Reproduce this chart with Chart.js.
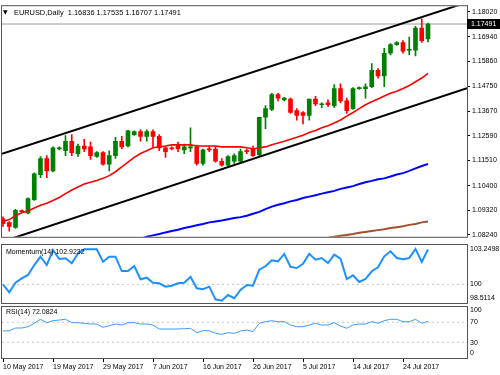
<!DOCTYPE html>
<html><head><meta charset="utf-8">
<script src="https://cdn.jsdelivr.net/npm/chart.js@4.4.0/dist/chart.umd.min.js"></script>
<style>
html,body{margin:0;padding:0;background:#fff;width:500px;height:375px;overflow:hidden;}
canvas{position:absolute;left:0;}
#c1{top:0;} #c2{top:243px;} #c3{top:300px;}
</style></head><body>
<canvas id="c1" width="500" height="243"></canvas>
<canvas id="c2" width="500" height="61"></canvas>
<canvas id="c3" width="500" height="75"></canvas>
<script>
// ---------- DATA ----------
const dates = ["10 May 2017","11 May 2017","12 May 2017","14 May 2017","15 May 2017","16 May 2017","17 May 2017","18 May 2017","19 May 2017","21 May 2017","22 May 2017","23 May 2017","24 May 2017","25 May 2017","26 May 2017","28 May 2017","29 May 2017","30 May 2017","31 May 2017",
"1 Jun 2017","2 Jun 2017","4 Jun 2017","5 Jun 2017","6 Jun 2017","7 Jun 2017","8 Jun 2017","9 Jun 2017","11 Jun 2017","12 Jun 2017","13 Jun 2017","14 Jun 2017","15 Jun 2017","16 Jun 2017","18 Jun 2017","19 Jun 2017","20 Jun 2017","21 Jun 2017","22 Jun 2017","23 Jun 2017","25 Jun 2017","26 Jun 2017","27 Jun 2017","28 Jun 2017","29 Jun 2017","30 Jun 2017",
"2 Jul 2017","3 Jul 2017","4 Jul 2017","5 Jul 2017","6 Jul 2017","7 Jul 2017","9 Jul 2017","10 Jul 2017","11 Jul 2017","12 Jul 2017","13 Jul 2017","14 Jul 2017","16 Jul 2017","17 Jul 2017","18 Jul 2017","19 Jul 2017","20 Jul 2017","21 Jul 2017","23 Jul 2017","24 Jul 2017","25 Jul 2017","26 Jul 2017","27 Jul 2017","28 Jul 2017"];
const dateTicks = ["10 May 2017","19 May 2017","29 May 2017","7 Jun 2017","16 Jun 2017","26 Jun 2017","5 Jul 2017","14 Jul 2017","24 Jul 2017"];
const priceTicks = [1.18020,1.16940,1.15860,1.14750,1.13670,1.12590,1.11510,1.10400,1.09320,1.08240];

const open  = [1.0895,1.0878,1.0857,1.0930,1.0920,1.0979,1.1088,1.1159,1.1105,1.1201,1.1193,1.1235,1.1180,1.1214,1.1210,1.1168,1.1185,1.1134,1.1172,1.1235,1.1214,1.1264,1.1277,1.1256,1.1277,1.1256,1.1206,1.1206,1.1218,1.1197,1.1206,1.1210,1.1138,1.1201,1.1201,1.1147,1.1130,1.1147,1.1147,1.1193,1.1201,1.1176,1.1340,1.1374,1.1440,1.1416,1.1420,1.1369,1.1361,1.1348,1.1420,1.1395,1.1403,1.1391,1.1466,1.1412,1.1378,1.1466,1.1466,1.1474,1.1546,1.1521,1.1621,1.1659,1.1668,1.1634,1.1634,1.1731,1.16836];
const high  = [1.0903,1.0882,1.0936,1.0934,1.0987,1.1096,1.1168,1.1172,1.1210,1.1210,1.1260,1.1264,1.1222,1.1243,1.1231,1.1189,1.1189,1.1193,1.1252,1.1256,1.1283,1.1281,1.1285,1.1285,1.1285,1.1264,1.1210,1.1210,1.1231,1.1222,1.1294,1.1218,1.1201,1.1210,1.1210,1.1159,1.1172,1.1180,1.1201,1.1201,1.1214,1.1340,1.1391,1.1445,1.1445,1.1428,1.1424,1.1378,1.1365,1.1420,1.1432,1.1403,1.1416,1.1483,1.1487,1.1424,1.1470,1.1474,1.1487,1.1575,1.1554,1.1642,1.1663,1.1672,1.1676,1.1692,1.1739,1.1772,1.17535];
const low   = [1.0861,1.0840,1.0853,1.0922,1.0916,1.0975,1.1075,1.1075,1.1100,1.1197,1.1172,1.1172,1.1168,1.1189,1.1155,1.1164,1.1130,1.1105,1.1159,1.1201,1.1210,1.1260,1.1235,1.1235,1.1210,1.1193,1.1164,1.1197,1.1189,1.1180,1.1189,1.1130,1.1130,1.1189,1.1143,1.1126,1.1126,1.1138,1.1143,1.1180,1.1168,1.1172,1.1290,1.1369,1.1412,1.1412,1.1357,1.1327,1.1311,1.1327,1.1391,1.1382,1.1386,1.1382,1.1403,1.1357,1.1374,1.1462,1.1424,1.1470,1.1512,1.1474,1.1613,1.1655,1.1621,1.1613,1.1609,1.1668,1.16707];
const close = [1.0873,1.0861,1.0932,1.0926,1.0983,1.1092,1.1159,1.1105,1.1206,1.1206,1.1235,1.1185,1.1214,1.1201,1.1172,1.1185,1.1134,1.1172,1.1235,1.1210,1.1281,1.1277,1.1256,1.1277,1.1256,1.1206,1.1189,1.1201,1.1201,1.1210,1.1210,1.1138,1.1197,1.1197,1.1147,1.1130,1.1168,1.1172,1.1189,1.1189,1.1172,1.1340,1.1378,1.1440,1.1424,1.1424,1.1361,1.1348,1.1348,1.1420,1.1399,1.1399,1.1395,1.1466,1.1412,1.1369,1.1466,1.1470,1.1474,1.1546,1.1521,1.1621,1.1659,1.1668,1.1630,1.1638,1.1731,1.1676,1.17491];

const maRed = [1.0883,1.0891,1.0908,1.0921,1.0929,1.0942,1.0954,1.0963,1.0975,1.0988,1.1005,1.1021,1.1034,1.1047,1.1055,1.1063,1.1072,1.1084,1.1101,1.1122,1.1143,1.1164,1.1181,1.1193,1.1206,1.1210,1.1214,1.1219,1.1219,1.1219,1.1219,1.1214,1.1214,1.1214,1.1214,1.1210,1.1210,1.1210,1.1210,1.1206,1.1202,1.1206,1.1210,1.1219,1.1227,1.1235,1.1244,1.1252,1.1261,1.1273,1.1282,1.1294,1.1303,1.1315,1.1328,1.1345,1.1361,1.1378,1.1395,1.1408,1.1420,1.1433,1.1445,1.1454,1.1466,1.1479,1.1496,1.1512,1.1533];
const maBlue = [null,null,null,null,null,null,null,null,null,null,null,null,null,null,null,null,null,null,null,null,null,null,
1.0807,1.0816,1.0822,1.0828,1.0835,1.0841,1.0847,1.0854,1.0860,1.0866,1.0872,1.0879,1.0883,1.0887,1.0893,1.0898,1.0902,1.0908,1.0917,1.0925,1.0937,1.0948,1.0956,1.0963,1.0971,1.0977,1.0986,1.0992,1.0998,1.1005,1.1011,1.1017,1.1026,1.1032,1.1038,1.1047,1.1055,1.1061,1.1068,1.1072,1.1080,1.1089,1.1095,1.1105,1.1116,1.1126,1.1135];
const maBrown = [null,null,null,null,null,null,null,null,null,null,null,null,null,null,null,null,null,null,null,null,null,null,null,null,null,null,null,null,null,null,null,null,null,null,null,null,null,null,null,null,null,null,null,null,null,null,null,null,null,null,null,null,
1.0812,1.0816,1.0820,1.0824,1.0828,1.0833,1.0837,1.0841,1.0845,1.0849,1.0854,1.0858,1.0862,1.0868,1.0872,1.0879,1.0883];

// channel trend lines: [bar, price] anchors
const upperChannel = [[-0.16,1.1180],[74.24,1.1844]];
const lowerChannel = [[-0.16,1.0794],[74.24,1.1467]];
const lastPrice = 1.17491;

const momentum = [100.01,99.34,100.14,100.51,100.79,101.62,102.32,101.62,102.88,102.13,102.19,101.77,102.60,102.94,102.94,102.94,101.90,102.32,102.32,101.12,101.12,101.54,100.43,100.56,100.14,100.09,99.81,99.89,100.09,100.14,100.64,99.67,99.59,99.81,98.75,98.63,99.11,98.84,99.53,99.95,99.89,101.23,101.52,102.02,101.93,102.55,101.46,101.37,101.73,102.57,102.07,102.21,101.79,102.49,102.15,100.45,100.76,100.20,100.45,101.10,101.43,102.35,102.77,102.21,102.10,102.21,102.97,101.88,102.9232];
const rsi = [52.5,53.1,58.5,58.5,61.1,67.9,75.9,69.1,73.1,74.5,75.9,69.1,69.1,67.9,66.5,66.5,59.9,63.1,66.5,64.5,69.1,69.1,66.5,66.5,64.5,56.5,56.5,56.5,56.5,57.1,57.9,49.1,53.1,53.1,47.9,45.9,49.1,47.9,52.5,54.5,51.1,67.9,71.1,73.1,71.1,71.1,64.5,61.1,61.1,64.5,67.9,64.5,64.5,69.1,62.5,57.9,64.5,66.5,66.5,71.1,67.9,73.1,75.9,75.9,71.1,71.1,75.9,67.9,72.0824];

const momLabels = [["103.2498",103.2498,3.5],["100",100,0],["98.5114",98.5114,-4]];
const rsiLabels = [["100",100,2.5],["70",70,0],["30",30,0.5],["0",0,-4]];
const titleText = "EURUSD,Daily  1.16836 1.17535 1.16707 1.17491";
const momTitle = "Momentum(14) 102.9232";
const rsiTitle = "RSI(14) 72.0824";

// ---------- RENDER ----------
const FAM = '"Liberation Sans", Arial, sans-serif';
const X_MIN = -0.16, X_MAX = 74.24;
const GREEN = '#008000', RED = '#ff0000';
const pts = arr => arr.map((v,i)=>v==null?null:{x:i,y:v}).filter(p=>p);
const seg = a => a.map(p=>({x:p[0],y:p[1]}));
const candleColor = open.map((o,i)=> close[i] >= o ? GREEN : RED);

const frame = {
  id:'frame',
  afterDraw(chart){
    const {ctx, chartArea:a} = chart;
    ctx.save();
    ctx.strokeStyle = '#555'; ctx.lineWidth = 1;
    ctx.strokeRect(a.left-0.5, a.top-0.5, a.right-a.left+1, a.bottom-a.top+1);
    ctx.restore();
  }
};
function sideLabels(items, caption, capDy){
  return {
    id:'side',
    afterDraw(chart){
      const {ctx, chartArea:a} = chart, ys = chart.scales.y;
      ctx.save();
      ctx.font = '7px ' + FAM; ctx.fillStyle = '#000'; ctx.textBaseline = 'middle'; ctx.textAlign = 'left';
      items.forEach(it => ctx.fillText(it[0], a.right + 3, ys.getPixelForValue(it[1]) + it[2]));
      ctx.fillText(caption, a.left + 4, a.top + capDy);
      ctx.restore();
    }
  };
}
const mainDeco = {
  id:'mainDeco',
  afterDraw(chart){
    const {ctx, chartArea:a} = chart, ys = chart.scales.y;
    ctx.save();
    ctx.textBaseline = 'middle'; ctx.textAlign = 'left'; ctx.fillStyle = '#000';
    ctx.font = '6px "DejaVu Sans"';
    ctx.fillText('\u25BC', a.left + 1, a.top + 6);
    ctx.font = '7.4px ' + FAM;
    ctx.fillText(titleText, a.left + 12, a.top + 7);
    const py = Math.round(ys.getPixelForValue(lastPrice));
    ctx.fillStyle = '#000';
    ctx.fillRect(a.right, py - 5, 33, 10);
    ctx.fillStyle = '#fff';
    ctx.font = '7px ' + FAM;
    ctx.fillText(lastPrice.toFixed(5), a.right + 4, py + 0.5);
    ctx.restore();
  }
};

const hiddenX = {type:'linear', min:X_MIN, max:X_MAX, display:false, offset:false};
const lineDS = (data, color, w, extra) => Object.assign({type:'line', data, borderColor:color, borderWidth:w, pointRadius:0, tension:0, fill:false}, extra||{});

new Chart(document.getElementById('c1'), {
  type:'bar',
  data:{ datasets:[
    lineDS(seg(upperChannel), '#000', 2),
    lineDS(seg(lowerChannel), '#000', 2),
    lineDS(pts(maRed), '#ff0000', 1.6),
    lineDS(pts(maBlue), '#0000ff', 2),
    lineDS(pts(maBrown), '#a0522d', 2),
    {type:'bar', data: open.map((o,i)=>({x:i, y:[o, close[i]]})), backgroundColor:candleColor, barThickness:4, minBarLength:1, grouped:false, borderWidth:0},
    {type:'bar', data: open.map((o,i)=>({x:i, y:[low[i], high[i]]})), backgroundColor:candleColor, barThickness:1, grouped:false, borderWidth:0},
    lineDS([{x:X_MIN,y:lastPrice},{x:X_MAX,y:lastPrice}], '#9a9a9a', 1)
  ]},
  options:{
    responsive:false, animation:false, devicePixelRatio:1,
    layout:{padding:{left:2, top:1, right:0, bottom:1}},
    plugins:{legend:{display:false}, tooltip:{enabled:false}},
    scales:{
      x: hiddenX,
      y:{ position:'right', min:1.08157, max:1.18272,
          afterFit: s => { s.width = 33; },
          afterBuildTicks: s => { s.ticks = priceTicks.map(v=>({value:v})); },
          ticks:{ callback: v => Number(v).toFixed(5), font:{size:7, family:FAM}, color:'#000', padding:2, autoSkip:false },
          grid:{ drawOnChartArea:false, tickLength:3, color:'#000' },
          border:{ display:false } }
    }
  },
  plugins:[frame, mainDeco]
});

new Chart(document.getElementById('c2'), {
  type:'line',
  data:{ datasets:[
    lineDS(pts(momentum), '#1e90ff', 2),
    lineDS([{x:X_MIN,y:100},{x:X_MAX,y:100}], '#c8c8c8', 1, {borderDash:[2,3]})
  ]},
  options:{
    responsive:false, animation:false, devicePixelRatio:1,
    layout:{padding:{left:2, top:2, right:0, bottom:1}},
    plugins:{legend:{display:false}, tooltip:{enabled:false}},
    scales:{
      x: hiddenX,
      y:{ position:'right', min:98.442, max:103.300, afterFit: s => { s.width = 33; },
          ticks:{display:false}, grid:{display:false}, border:{display:false} }
    }
  },
  plugins:[frame, sideLabels(momLabels, momTitle, 6.7)]
});

new Chart(document.getElementById('c3'), {
  type:'line',
  data:{ datasets:[
    lineDS(pts(rsi), '#3c9cff', 1),
    lineDS([{x:X_MIN,y:70},{x:X_MAX,y:70}], '#c8c8c8', 1, {borderDash:[2,3]}),
    lineDS([{x:X_MIN,y:30},{x:X_MAX,y:30}], '#c8c8c8', 1, {borderDash:[2,3]})
  ]},
  options:{
    responsive:false, animation:false, devicePixelRatio:1,
    layout:{padding:{left:2, top:7, right:0, bottom:0}},
    plugins:{legend:{display:false}, tooltip:{enabled:false}},
    scales:{
      x:{ type:'linear', min:X_MIN, max:X_MAX, offset:false,
          afterFit: s => { s.height = 17; },
          afterBuildTicks: s => { s.ticks = dateTicks.map(d => ({value: dates.indexOf(d)})); },
          ticks:{ callback: v => dates[v], align:'start', autoSkip:false, maxRotation:0, font:{size:7, family:FAM}, color:'#000', padding:1 },
          grid:{ drawOnChartArea:false, tickLength:4, color:'#000' },
          border:{ display:false } },
      y:{ position:'right', min:-1.5, max:100.5, afterFit: s => { s.width = 33; },
          ticks:{display:false}, grid:{display:false}, border:{display:false} }
    }
  },
  plugins:[frame, sideLabels(rsiLabels, rsiTitle, 5)]
});
</script>
</body></html>
